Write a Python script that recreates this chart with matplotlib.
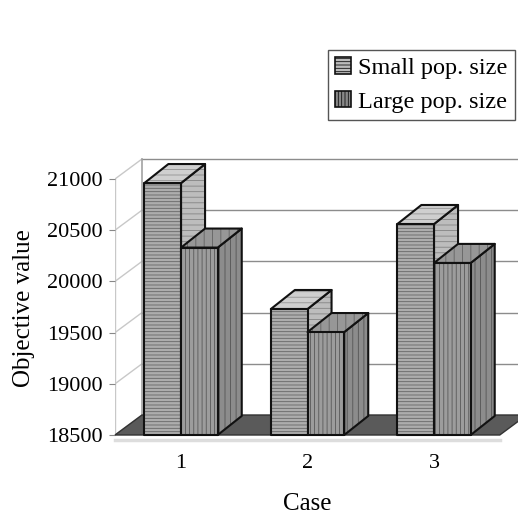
import matplotlib
matplotlib.use("Agg")
import matplotlib.pyplot as plt
from matplotlib.patches import Polygon, Patch

plt.rcParams['font.family'] = ['Liberation Serif', 'DejaVu Serif']
plt.rcParams['hatch.linewidth'] = 0.6

cases = ['1', '2', '3']
small_pop = [20960, 19730, 20560]
large_pop = [20330, 19505, 20180]
y_ticks = [18500, 19000, 19500, 20000, 20500, 21000]

Y0 = 18500          # floor level
X0, X1 = 0.478, 3.52  # front edge of the floor
WALL_DX, WALL_DY = 0.213, 195
BAR_DX, BAR_DY = 0.19, 186
BAR_W = 0.29


def face(ax, pts, fc, hc, hatch, z):
    ax.add_patch(Polygon(pts, closed=True, facecolor=fc, edgecolor=hc, lw=0,
                         hatch=hatch, zorder=z, clip_on=False))
    ax.add_patch(Polygon(pts, closed=True, fill=False, edgecolor='#111111',
                         lw=1.5, joinstyle='round', zorder=z + 0.1, clip_on=False))


def draw_bar(ax, xl, value, style, z):
    xr = xl + BAR_W
    front = [(xl, Y0), (xr, Y0), (xr, value), (xl, value)]
    top = [(xl, value), (xr, value), (xr + BAR_DX, value + BAR_DY), (xl + BAR_DX, value + BAR_DY)]
    side = [(xr, Y0), (xr + BAR_DX, Y0 + BAR_DY), (xr + BAR_DX, value + BAR_DY), (xr, value)]
    face(ax, side, *style['side'], z)
    face(ax, top, *style['top'], z + 0.2)
    face(ax, front, *style['front'], z + 0.4)


small_style = {
    'front': ('#adadad', '#666666', '-----'),
    'top': ('#cfcfcf', '#939393', '---'),
    'side': ('#bdbdbd', '#848484', '---'),
}
large_style = {
    'front': ('#9c9c9c', '#585858', '||||'),
    'top': ('#979797', '#636363', '||'),
    'side': ('#8c8c8c', '#545454', '|||'),
}

fig = plt.figure(figsize=(5.18, 5.15), dpi=100)
ax = fig.add_axes([115 / 518, 80 / 515, 403 / 518, 285 / 515])
ax.set_xlim(X0, 3.664)
ax.set_ylim(Y0, 21283)
for s in ax.spines.values():
    s.set_visible(False)

# back wall with gridlines, left wall edges
for v in y_ticks:
    ax.plot([X0 + WALL_DX, 3.8], [v + WALL_DY, v + WALL_DY], color='#8c8c8c', lw=1.0,
            zorder=1, clip_on=False)
    ax.plot([X0, X0 + WALL_DX], [v, v + WALL_DY], color='#c8c8c8', lw=1.0, zorder=1)
ax.plot([X0 + WALL_DX] * 2, [Y0 + WALL_DY, 21000 + WALL_DY], color='#9a9a9a', lw=1.1, zorder=1)
ax.plot([X0, X0], [Y0, 21000], color='#c8c8c8', lw=1.0, zorder=1)

# floor
floor = [(X0, Y0), (X1, Y0), (X1 + WALL_DX, Y0 + WALL_DY), (X0 + WALL_DX, Y0 + WALL_DY)]
ax.add_patch(Polygon(floor, closed=True, facecolor='#5a5a5a', edgecolor='#333333',
                     lw=1.0, zorder=2, clip_on=False))
ax.plot([X0, X1], [Y0 - 50, Y0 - 50], color='#dddddd', lw=2.5, zorder=1, clip_on=False)

for i, (s, l) in enumerate(zip(small_pop, large_pop)):
    c = i + 1
    draw_bar(ax, c - BAR_W, s, small_style, 3 + i * 2)
    draw_bar(ax, c, l, large_style, 4 + i * 2)

ax.set_yticks(y_ticks)
ax.set_yticklabels([str(v) for v in y_ticks])
ax.set_xticks([1, 2, 3])
ax.set_xticklabels(cases)
ax.tick_params(axis='y', length=4, color='#888888', labelsize=16, pad=5)
ax.tick_params(axis='x', length=0, labelsize=16, pad=14)

fig.text(24 / 518, 1 - 308 / 515, 'Objective value', rotation=90, fontsize=18,
         ha='center', va='center')
fig.text(307 / 518, 1 - 504 / 515, 'Case', fontsize=18, ha='center', va='center')

handles = [Patch(facecolor='#bbbbbb', edgecolor='#111111', hatch='-----', lw=1.2),
           Patch(facecolor='#888888', edgecolor='#111111', hatch='|||||', lw=1.2)]
leg = fig.legend(handles, ['Small pop. size', 'Large pop. size'],
                 loc='upper right', bbox_to_anchor=(0.994, 1 - 50 / 515),
                 fontsize=17.5, handlelength=0.65, handleheight=0.65, handletextpad=0.3,
                 borderpad=0.3, labelspacing=0.5, borderaxespad=0, fancybox=False,
                 framealpha=1, edgecolor='#555555')
leg.get_frame().set_linewidth(1.0)

fig.savefig('out.png', dpi=100)
